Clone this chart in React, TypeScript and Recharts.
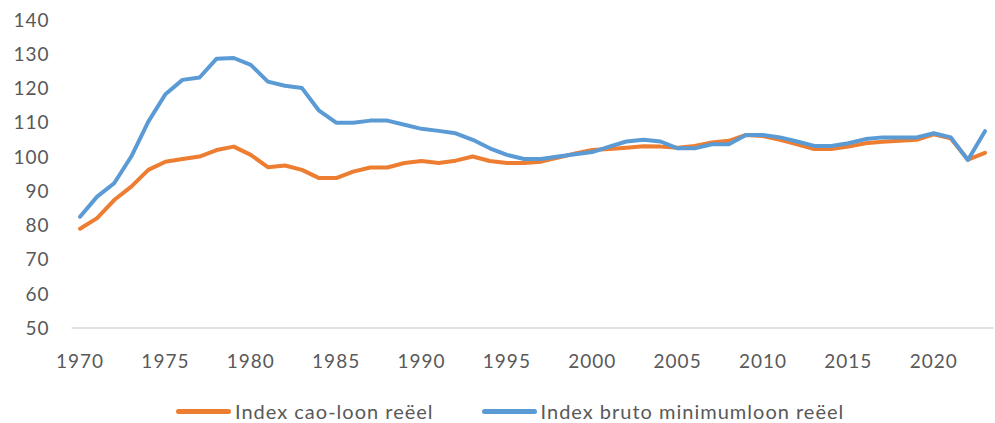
import React from "react";
import { LineChart, Line, XAxis, YAxis, Legend } from "recharts";

const years: number[] = [
  1970, 1971, 1972, 1973, 1974, 1975, 1976, 1977, 1978, 1979,
  1980, 1981, 1982, 1983, 1984, 1985, 1986, 1987, 1988, 1989,
  1990, 1991, 1992, 1993, 1994, 1995, 1996, 1997, 1998, 1999,
  2000, 2001, 2002, 2003, 2004, 2005, 2006, 2007, 2008, 2009,
  2010, 2011, 2012, 2013, 2014, 2015, 2016, 2017, 2018, 2019,
  2020, 2021, 2022, 2023,
];

const caoLoon: number[] = [
  79.0, 82.1, 87.4, 91.3, 96.2, 98.6, 99.4, 100.1, 102.0, 103.0,
  100.6, 97.0, 97.5, 96.2, 93.8, 93.8, 95.7, 96.9, 96.9, 98.2,
  98.8, 98.2, 98.9, 100.1, 98.8, 98.2, 98.2, 98.6, 99.8, 101.0,
  102.0, 102.3, 102.7, 103.1, 103.0, 102.7, 103.2, 104.2, 104.7, 106.4,
  106.1, 105.0, 103.7, 102.3, 102.3, 103.0, 104.0, 104.4, 104.7, 105.0,
  106.6, 105.4, 99.2, 101.2,
];

const minimumLoon: number[] = [
  82.5, 88.4, 92.3, 100.1, 110.3, 118.3, 122.5, 123.2, 128.7, 128.9,
  126.9, 122.0, 120.8, 120.1, 113.5, 110.0, 110.0, 110.6, 110.6, 109.4,
  108.2, 107.6, 106.9, 105.0, 102.5, 100.6, 99.4, 99.4, 100.1, 100.8,
  101.4, 103.0, 104.5, 105.0, 104.5, 102.5, 102.5, 103.7, 103.7, 106.4,
  106.4, 105.7, 104.5, 103.2, 103.2, 104.0, 105.2, 105.7, 105.7, 105.7,
  106.9, 105.7, 99.1, 107.5,
];

const xTicks: number[] = [1970, 1975, 1980, 1985, 1990, 1995, 2000, 2005, 2010, 2015, 2020];
const yTicks: number[] = [50, 60, 70, 80, 90, 100, 110, 120, 130, 140];

const seriesNames = ["Index cao-loon reëel", "Index bruto minimumloon reëel"];
const colors = ["#ED7D31", "#5B9BD5"];

const data = years.map((y, i) => ({ year: y, cao: caoLoon[i], min: minimumLoon[i] }));

const FONT = "Lato, 'Open Sans', sans-serif";
const TEXT = "#595959";

function LegendContent() {
  return (
    <div
      style={{
        width: 995,
        height: 24,
        display: "flex",
        alignItems: "center",
        fontFamily: FONT,
        fontSize: 20,
        lineHeight: "24px",
        letterSpacing: 1,
        color: TEXT,
        boxSizing: "border-box",
        paddingLeft: 176,
        overflow: "visible",
      }}
    >
      {seriesNames.map((n, i) => (
        <div key={n} style={{ display: "flex", alignItems: "center", marginRight: i === 0 ? 48 : 0 }}>
          <div style={{ width: 55, height: 5, background: colors[i], borderRadius: 3, marginRight: 4 }} />
          <span style={{ whiteSpace: "nowrap" }}>{n}</span>
        </div>
      ))}
    </div>
  );
}

export default function App() {
  return (
    <div style={{ position: "absolute", left: 0, top: 0, width: 995, height: 423, background: "#fff" }}>
      <LineChart width={995} height={423} data={data} margin={{ top: 20, right: 1.5, bottom: 0, left: 0 }}>
        <XAxis
          dataKey="year"
          type="number"
          domain={[1969.5, 2023.5]}
          ticks={xTicks}
          tickLine={false}
          axisLine={{ stroke: "#D9D9D9", strokeWidth: 1.5 }}
          tick={{ fill: TEXT, fontSize: 19, fontFamily: FONT, letterSpacing: 1 }}
          tickMargin={21}
          height={71}
          interval={0}
        />
        <YAxis
          type="number"
          domain={[50, 140]}
          ticks={yTicks}
          tickLine={false}
          axisLine={false}
          width={71.5}
          tick={{ fill: TEXT, fontSize: 19, fontFamily: FONT, letterSpacing: 1 }}
          tickMargin={16}
          interval={0}
        />
        <Legend verticalAlign="bottom" content={() => <LegendContent />} />
        <Line
          dataKey="cao"
          name={seriesNames[0]}
          stroke={colors[0]}
          strokeWidth={4}
          dot={false}
          strokeLinejoin="round"
          strokeLinecap="round"
          isAnimationActive={false}
        />
        <Line
          dataKey="min"
          name={seriesNames[1]}
          stroke={colors[1]}
          strokeWidth={4}
          dot={false}
          strokeLinejoin="round"
          strokeLinecap="round"
          isAnimationActive={false}
        />
      </LineChart>
    </div>
  );
}
